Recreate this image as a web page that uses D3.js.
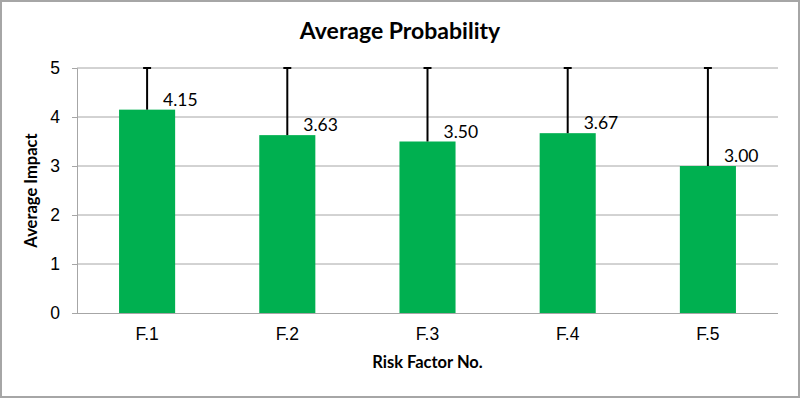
<!DOCTYPE html>
<html>
<head>
<meta charset="utf-8">
<script src="https://cdn.jsdelivr.net/npm/d3@7"></script>
<style>
  html, body { margin: 0; padding: 0; background: #fff; }
  svg { display: block; font-family: Lato, "Open Sans", sans-serif; }
</style>
</head>
<body>
<div id="chart"></div>
<script>
const categories = ["F.1", "F.2", "F.3", "F.4", "F.5"];
const values = [4.15, 3.63, 3.50, 3.67, 3.00];
const errorTops = [5, 5, 5, 5, 5];
const yTicks = [0, 1, 2, 3, 4, 5];

const width = 800, height = 398;
const margin = { top: 68, right: 22, bottom: 85, left: 77 };
const innerW = width - margin.left - margin.right;
const innerH = height - margin.top - margin.bottom;

const svg = d3.select("#chart").append("svg")
  .attr("width", width)
  .attr("height", height);

// outer frame
svg.append("rect")
  .attr("x", 1).attr("y", 1)
  .attr("width", width - 2).attr("height", height - 2)
  .attr("fill", "#fff")
  .attr("stroke", "#a6a6a6")
  .attr("stroke-width", 2);

const g = svg.append("g").attr("transform", `translate(${margin.left},${margin.top})`);

const x = d3.scaleBand().domain(categories).range([0, innerW]).paddingInner(0.6).paddingOuter(0.3);
const y = d3.scaleLinear().domain([0, 5]).range([innerH, 0]);

// gridlines + y axis
const yAxis = g.append("g")
  .call(d3.axisLeft(y).tickValues(yTicks).tickSize(5).tickPadding(12).tickFormat(d3.format("d")));
yAxis.select(".domain").attr("stroke", "#a6a6a6");
yAxis.selectAll(".tick line").attr("stroke", "#a6a6a6");
yAxis.selectAll(".tick text").attr("font-size", 17.5).attr("fill", "#000");

g.append("g").selectAll("line")
  .data(yTicks.filter(d => d > 0))
  .join("line")
  .attr("x1", 0).attr("x2", innerW)
  .attr("y1", d => y(d)).attr("y2", d => y(d))
  .attr("stroke", "#a6a6a6").attr("stroke-width", 1);

// x axis
const xAxis = g.append("g")
  .attr("transform", `translate(0,${innerH})`)
  .call(d3.axisBottom(x).tickSize(0).tickPadding(15));
xAxis.select(".domain").attr("stroke", "#a6a6a6").attr("d", `M-5,0.5H${innerW}`);
xAxis.selectAll(".tick text").attr("font-size", 17.5).attr("fill", "#000");

// bars
g.selectAll("rect.bar")
  .data(values)
  .join("rect")
  .attr("class", "bar")
  .attr("x", (d, i) => x(categories[i]))
  .attr("y", d => y(d))
  .attr("width", x.bandwidth())
  .attr("height", d => innerH - y(d))
  .attr("fill", "#00b050");

// error bars
const cx = i => x(categories[i]) + x.bandwidth() / 2;
g.selectAll("line.err")
  .data(values)
  .join("line")
  .attr("class", "err")
  .attr("x1", (d, i) => cx(i)).attr("x2", (d, i) => cx(i))
  .attr("y1", d => y(d)).attr("y2", (d, i) => y(errorTops[i]))
  .attr("stroke", "#000").attr("stroke-width", 2);
g.selectAll("line.cap")
  .data(errorTops)
  .join("line")
  .attr("class", "cap")
  .attr("x1", (d, i) => cx(i) - 4).attr("x2", (d, i) => cx(i) + 4)
  .attr("y1", d => y(d)).attr("y2", d => y(d))
  .attr("stroke", "#000").attr("stroke-width", 2);

// value labels
g.selectAll("text.val")
  .data(values)
  .join("text")
  .attr("class", "val")
  .attr("x", (d, i) => cx(i) + 16)
  .attr("y", d => y(d) - 4)
  .attr("font-size", 17.5)
  .attr("fill", "#000")
  .text(d => d.toFixed(2));

// titles
svg.append("text")
  .attr("x", 400).attr("y", 39)
  .attr("text-anchor", "middle")
  .attr("font-size", 23).attr("font-weight", "bold")
  .text("Average Probability");

svg.append("text")
  .attr("x", margin.left + innerW / 2).attr("y", 368)
  .attr("text-anchor", "middle")
  .attr("font-size", 16.5).attr("font-weight", "bold")
  .text("Risk Factor No.");

svg.append("text")
  .attr("transform", `translate(37,${margin.top + innerH / 2}) rotate(-90)`)
  .attr("text-anchor", "middle")
  .attr("font-size", 16.5).attr("font-weight", "bold")
  .text("Average Impact");
</script>
</body>
</html>
